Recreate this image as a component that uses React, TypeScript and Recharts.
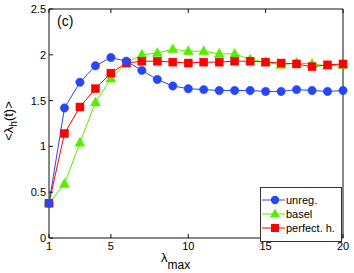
import { LineChart, Line, XAxis, YAxis, Legend } from 'recharts';

const lambdaMax = [1, 2, 3, 4, 5, 6, 7, 8, 9, 10, 11, 12, 13, 14, 15, 16, 17, 18, 19, 20];
const unreg = [0.38, 1.42, 1.70, 1.88, 1.97, 1.93, 1.83, 1.73, 1.66, 1.63, 1.62, 1.61, 1.61, 1.61, 1.60, 1.60, 1.62, 1.61, 1.60, 1.61];
const basel = [0.38, 0.59, 1.04, 1.48, 1.74, 1.91, 2.00, 2.02, 2.06, 2.04, 2.04, 2.01, 2.01, 1.95, 1.92, 1.89, 1.91, 1.90, 1.88, 1.89];
const perfectH = [0.38, 1.14, 1.43, 1.63, 1.80, 1.91, 1.93, 1.93, 1.92, 1.91, 1.92, 1.92, 1.93, 1.93, 1.92, 1.91, 1.90, 1.87, 1.89, 1.90];
const xTicks = [1, 5, 10, 15, 20];
const yTicks = [0, 0.5, 1, 1.5, 2, 2.5];

const BLUE = '#2846f5';
const GREEN = '#55ee00';
const RED = '#ff0000';
const AXIS = '#111';
const FONT = '"Liberation Sans", Arial, sans-serif';

const rows = lambdaMax.map((x, i) => ({ x, unreg: unreg[i], basel: basel[i], perfect: perfectH[i] }));

const TICK_LEN = 4;

function BottomTick(p: any) {
  const y0 = p.y - 4;
  return (
    <g>
      <line x1={p.x} x2={p.x} y1={y0} y2={y0 - TICK_LEN} stroke={AXIS} />
      <text x={p.x} y={p.y} dy="0.71em" textAnchor="middle" fontSize={11} fontFamily={FONT} fill="#000">
        {p.payload.value}
      </text>
    </g>
  );
}

function LeftTick(p: any) {
  const x0 = p.x + 3;
  return (
    <g>
      <line x1={x0} x2={x0 + TICK_LEN} y1={p.y} y2={p.y} stroke={AXIS} />
      <text x={p.x} y={p.y} dy="0.355em" textAnchor="end" fontSize={11} fontFamily={FONT} fill="#000">
        {p.payload.value}
      </text>
    </g>
  );
}

function TopTick(p: any) {
  return <line x1={p.x} x2={p.x} y1={p.y} y2={p.y + TICK_LEN} stroke={AXIS} />;
}

function RightTick(p: any) {
  return <line x1={p.x} x2={p.x - TICK_LEN} y1={p.y} y2={p.y} stroke={AXIS} />;
}

const circleDot = (p: any) => (
  <circle key={`c-${p.index}`} cx={p.cx} cy={p.cy} r={4.2} fill={BLUE} stroke={BLUE} strokeWidth={0.5} />
);

const triangleDot = (p: any) => (
  <polygon
    key={`t-${p.index}`}
    points={`${p.cx},${p.cy - 5.5} ${p.cx - 5},${p.cy + 3.5} ${p.cx + 5},${p.cy + 3.5}`}
    fill={GREEN}
    stroke={GREEN}
    strokeWidth={0.5}
  />
);

const squareDot = (p: any) => (
  <rect key={`s-${p.index}`} x={p.cx - 4} y={p.cy - 4} width={8} height={8} fill={RED} stroke={RED} strokeWidth={0.5} />
);

const legendItems = [
  { name: 'unreg.', color: BLUE, shape: 'circle' },
  { name: 'basel', color: GREEN, shape: 'triangle' },
  { name: 'perfect. h.', color: RED, shape: 'square' },
];

function LegendBox() {
  return (
    <div
      style={{
        border: '1px solid #333',
        background: '#fff',
        width: 80,
        height: 48,
        paddingTop: 5,
        boxSizing: 'content-box',
        fontFamily: FONT,
        fontSize: 11,
        lineHeight: '14px',
      }}
    >
      {legendItems.map((it) => (
        <div key={it.name} style={{ display: 'flex', alignItems: 'center', height: 14 }}>
          <svg width={25} height={14} style={{ display: 'block' }}>
            <line x1={1} x2={24} y1={7} y2={7} stroke={it.color} />
            {it.shape === 'circle' && <circle cx={14} cy={7} r={4.2} fill={it.color} />}
            {it.shape === 'triangle' && <polygon points="14,1.5 9,10.5 19,10.5" fill={it.color} />}
            {it.shape === 'square' && <rect x={10} y={3} width={8} height={8} fill={it.color} />}
          </svg>
          <span style={{ color: '#000', whiteSpace: 'nowrap' }}>{it.name}</span>
        </div>
      ))}
    </div>
  );
}

export default function App() {
  return (
    <div style={{ position: 'fixed', left: 0, top: 0, width: 354, height: 273, background: '#fff' }}>
      <LineChart width={354} height={273} data={rows} margin={{ top: 0, right: 0, bottom: 0, left: 0 }}>
        <XAxis
          xAxisId="b"
          dataKey="x"
          type="number"
          domain={[1, 20]}
          ticks={xTicks}
          height={35}
          tickLine={false}
          tickSize={0}
          tickMargin={4}
          tick={BottomTick}
          axisLine={{ stroke: AXIS }}
        />
        <XAxis
          xAxisId="t"
          orientation="top"
          dataKey="x"
          type="number"
          domain={[1, 20]}
          ticks={xTicks}
          height={9}
          tickLine={false}
          tickSize={0}
          tickMargin={0}
          tick={TopTick}
          axisLine={{ stroke: AXIS }}
        />
        <YAxis
          yAxisId="l"
          type="number"
          domain={[0, 2.5]}
          ticks={yTicks}
          width={49}
          tickLine={false}
          tickSize={0}
          tickMargin={3}
          tick={LeftTick}
          axisLine={{ stroke: AXIS }}
        />
        <YAxis
          yAxisId="r"
          orientation="right"
          type="number"
          domain={[0, 2.5]}
          ticks={yTicks}
          width={11}
          tickLine={false}
          tickSize={0}
          tickMargin={0}
          tick={RightTick}
          axisLine={{ stroke: AXIS }}
        />
        <Legend
          layout="vertical"
          align="center"
          verticalAlign="middle"
          content={() => <LegendBox />}
          wrapperStyle={{ left: 260, top: 187, width: 82, height: 50 }}
        />
        <Line xAxisId="b" yAxisId="l" dataKey="basel" stroke={GREEN} strokeWidth={1} dot={triangleDot} isAnimationActive={false} />
        <Line xAxisId="b" yAxisId="l" dataKey="perfect" stroke={RED} strokeWidth={1} dot={squareDot} isAnimationActive={false} />
        <Line xAxisId="b" yAxisId="l" dataKey="unreg" stroke={BLUE} strokeWidth={1} dot={circleDot} isAnimationActive={false} />
        <text x={57} y={26} fontSize={14} fontFamily={FONT} fill="#000">(c)</text>
        <text
          x={13}
          y={121}
          transform="rotate(-90, 13, 121)"
          textAnchor="middle"
          fontSize={13}
          fontFamily={FONT}
          fill="#000"
        >
          {'<λ'}
          <tspan dy={4} fontSize={10}>h</tspan>
          <tspan dy={-4}>{'(t)>'}</tspan>
        </text>
        <text x={161} y={262} fontSize={13} fontFamily={FONT} fill="#000">
          λ
          <tspan dy={7} fontSize={12}>max</tspan>
        </text>
      </LineChart>
    </div>
  );
}
